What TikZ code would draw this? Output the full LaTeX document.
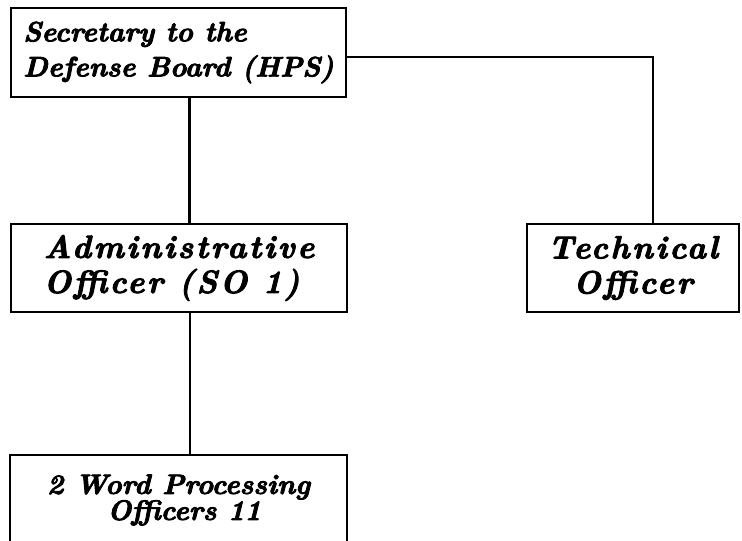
\documentclass[tikz,border=0pt]{standalone}
\usepackage{fontspec}
\setmainfont{Latin Modern Roman}[BoldItalicFeatures={FakeBold=3}]
\begin{document}
\begin{tikzpicture}[
  x=1pt, y=1pt,
  box/.style={draw, line width=2.8pt, rectangle, inner sep=0pt,
    font=\fontsize{28}{35}\selectfont\bfseries\itshape},
  widetext/.style={font=\fontsize{32}{35}\selectfont\bfseries\itshape\addfontfeature{LetterSpace=8}},
  link/.style={line width=2.6pt}
]
\useasboundingbox (0,0) rectangle (742,-541);
\clip (0,0) rectangle (742,-541);
\fill[white] (0,0) rectangle (742,-541);

% boxes of the chart
\node[box, align=left, minimum width=335pt, minimum height=89pt] (sec) at (178.5,-52.5)
  {Secretary to the\\Defense Board (HPS)};
\node[box, widetext, align=left, minimum width=336pt, minimum height=88pt] (adm) at (179,-268)
  {Administrative\\Officer (SO 1)};
\node[box, widetext, align=center, minimum width=212pt, minimum height=88pt] (tech) at (633,-268)
  {Technical\\Officer};
\node[box, align=center, minimum width=337pt, minimum height=90pt,
      font=\fontsize{28}{26}\selectfont\bfseries\itshape] (wp) at (178.5,-500)
  {2 Word Processing\\\ Officers 11};

% reporting lines
\draw[link] ([xshift=11pt]sec.south) -- ([xshift=11pt]sec.south |- adm.north);
\draw[link] ([xshift=11pt]adm.south) -- ([xshift=11pt]adm.south |- wp.north);
\draw[link] ([yshift=-4.5pt]sec.east) -| ([xshift=20pt]tech.north);
\end{tikzpicture}
\end{document}
